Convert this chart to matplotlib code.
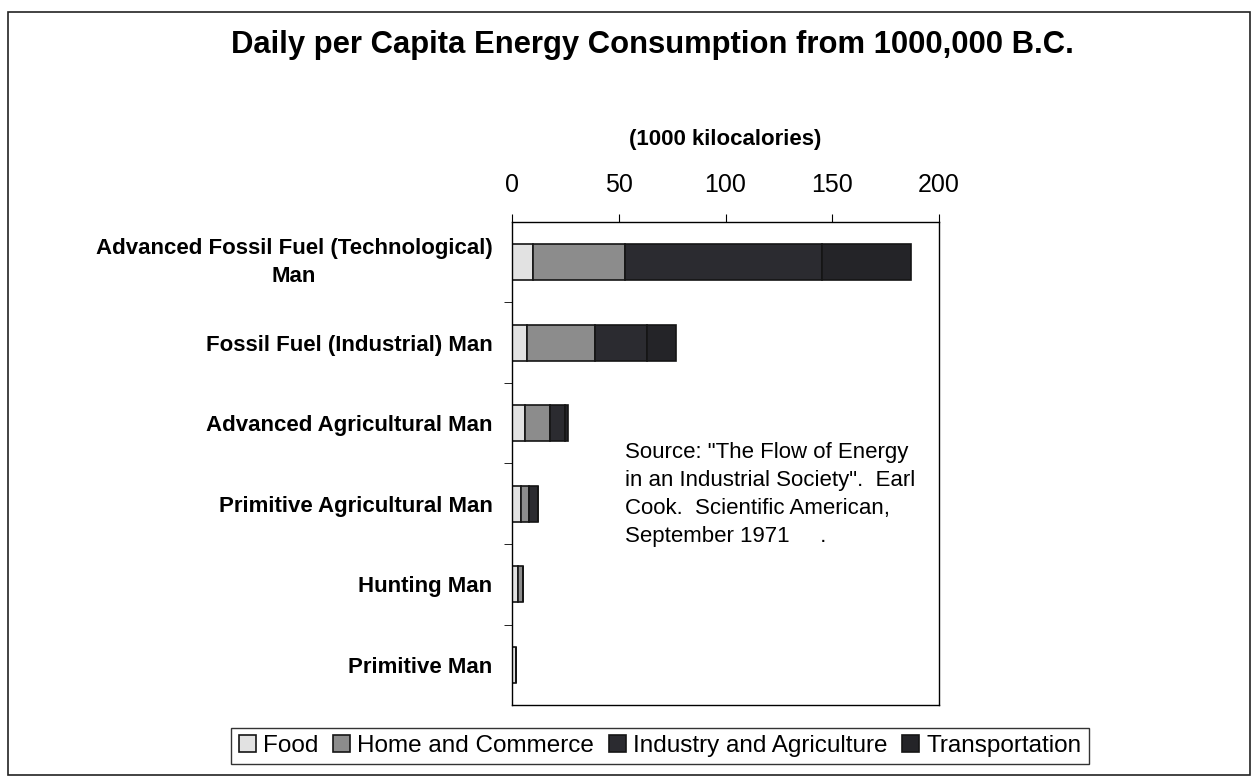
import matplotlib.pyplot as plt
import numpy as np
from matplotlib.patches import Rectangle
from matplotlib.transforms import ScaledTranslation

plt.rcParams['font.family'] = ['Liberation Sans', 'DejaVu Sans']

# categories, top to bottom
categories = ['Advanced Fossil Fuel (Technological)\nMan',
              'Fossil Fuel (Industrial) Man',
              'Advanced Agricultural Man',
              'Primitive Agricultural Man',
              'Hunting Man',
              'Primitive Man']

# 1000 kilocalories per day
food = [10, 7, 6, 4, 3, 2]
home = [43, 32, 12, 4, 2, 0]
industry = [92, 24, 7, 4, 0, 0]
transport = [42, 14, 1, 0, 0, 0]

series = ['Food', 'Home and Commerce', 'Industry and Agriculture', 'Transportation']
colors = ['#e2e2e2', '#8c8c8c', '#2b2b30', '#242428']

fig = plt.figure(figsize=(12.57, 7.79), dpi=100)
ax = fig.add_axes([512/1257, 1-705/779, 427/1257, 483/779])

y = np.arange(len(categories))
left = np.zeros(len(categories))
for vals, col, name in zip([food, home, industry, transport], colors, series):
    vals = np.array(vals, dtype=float)
    ax.barh(y, vals, left=left, height=0.45, color=col, edgecolor='#151515',
            linewidth=1.2, label=name)
    left += vals

ax.set_xlim(0, 200)
ax.set_ylim(len(categories) - 0.5, -0.5)
ax.xaxis.tick_top()
ax.set_xticks([0, 50, 100, 150, 200])
ax.tick_params(axis='x', labelsize=18, length=6, direction='out', pad=12)
ax.set_yticks(y)
ax.set_yticklabels(categories, fontsize=16, fontweight='bold', linespacing=1.45)
ax.tick_params(axis='y', length=0, pad=14)
ax.set_yticks(np.arange(0.5, len(categories) - 0.5), minor=True)
ax.tick_params(axis='y', which='minor', length=6, direction='out')
for i, lab in enumerate(ax.get_yticklabels()):
    lab.set_horizontalalignment('right')
    lab.set_multialignment('center')
# the two-line label sits a little above its bar
ax.get_yticklabels()[0].set_transform(ax.get_yticklabels()[0].get_transform()
                                      + ScaledTranslation(0, 6/100, fig.dpi_scale_trans))
for sp in ax.spines.values():
    sp.set_linewidth(1.0)

ax.set_xlabel('(1000 kilocalories)', fontsize=16, fontweight='bold', labelpad=20)
ax.xaxis.set_label_position('top')

ax.text(0.265, 0.545, 'Source: "The Flow of Energy\nin an Industrial Society".  Earl\n'
        'Cook.  Scientific American,\nSeptember 1971     .',
        transform=ax.transAxes, fontsize=16, va='top', ha='left', linespacing=1.45)

fig.text(652/1257, 1-45/779, 'Daily per Capita Energy Consumption from 1000,000 B.C.',
         ha='center', va='center', fontsize=22.3, fontweight='bold')

leg = fig.legend(loc='center', bbox_to_anchor=(660/1257, 1-746/779), ncol=4,
                 fontsize=17.5, frameon=True, fancybox=False, edgecolor='black',
                 handlelength=0.7, handleheight=0.7, handletextpad=0.3,
                 columnspacing=0.6, borderpad=0.3, borderaxespad=0)
leg.get_frame().set_linewidth(1.0)

# outer frame
fig.patches.append(Rectangle((8/1257, 4/779), 1242/1257, 763/779, transform=fig.transFigure,
                             fill=False, edgecolor='#222222', linewidth=1.2))

fig.savefig('out.png', dpi=100)
